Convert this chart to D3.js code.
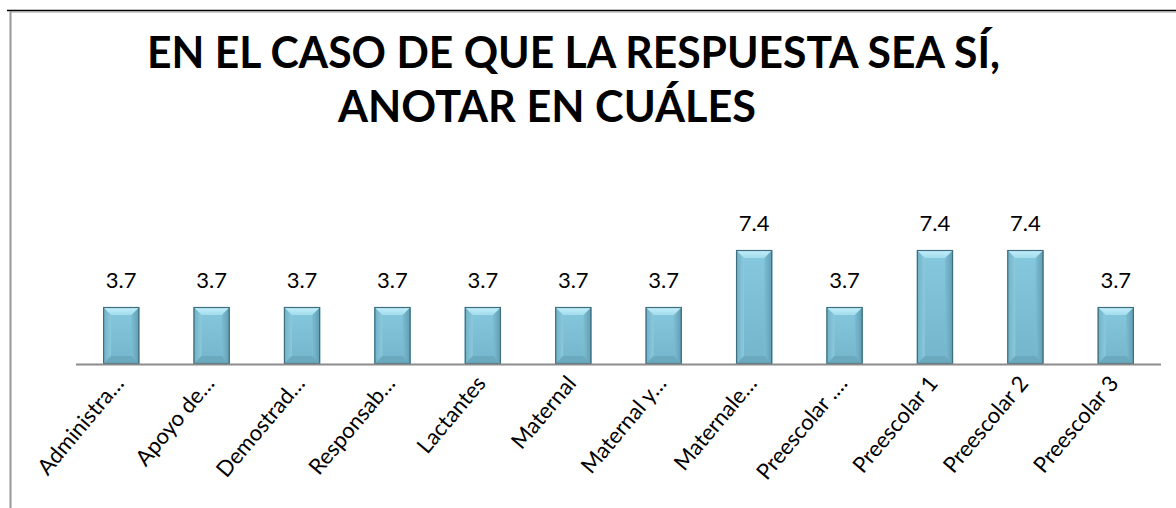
<!DOCTYPE html>
<html>
<head>
<meta charset="utf-8">
<script src="https://cdn.jsdelivr.net/npm/d3@7/dist/d3.min.js"></script>
<style>
html,body{margin:0;padding:0;background:#fff;}
svg{display:block;}
</style>
</head>
<body>
<svg id="chart" width="1176" height="508"></svg>
<script>
const categories = ["Administra…","Apoyo de…","Demostrad…","Responsab…","Lactantes","Maternal","Maternal y…","Maternale…","Preescolar .…","Preescolar 1","Preescolar 2","Preescolar 3"];
const values = [3.7,3.7,3.7,3.7,3.7,3.7,3.7,7.4,3.7,7.4,7.4,3.7];
const titleLines = ["EN EL CASO DE QUE LA RESPUESTA SEA SÍ,","ANOTAR EN CUÁLES"];

const svg = d3.select("#chart");
const W = 1176, H = 508;
const font = "Lato, 'Open Sans', 'Liberation Sans', sans-serif";

// frame
svg.append("line").attr("x1",7).attr("x2",W).attr("y1",10.5).attr("y2",10.5).attr("stroke","#000").attr("stroke-width",1.5);
svg.append("line").attr("x1",10).attr("x2",W).attr("y1",12).attr("y2",12).attr("stroke","#999").attr("stroke-width",1.2);
svg.append("line").attr("x1",10.5).attr("x2",10.5).attr("y1",11).attr("y2",H).attr("stroke","#999").attr("stroke-width",2);

// title
svg.append("text").attr("x",147).attr("y",68).attr("font-family",font).attr("font-weight",700)
  .attr("font-size",43).attr("textLength",853).attr("lengthAdjust","spacingAndGlyphs").attr("fill","#000").text(titleLines[0]);
svg.append("text").attr("x",338).attr("y",122).attr("font-family",font).attr("font-weight",700)
  .attr("font-size",43).attr("textLength",418).attr("lengthAdjust","spacingAndGlyphs").attr("fill","#000").text(titleLines[1]);

// scales
const x = d3.scaleBand().domain(categories).range([76,1161]).paddingInner(0.6).paddingOuter(0.3);
const y = d3.scaleLinear().domain([0,7.4]).range([364,250]);

// gradient defs
const defs = svg.append("defs");
function lg(id, stops, x1,y1,x2,y2){
  const g = defs.append("linearGradient").attr("id",id).attr("x1",x1).attr("y1",y1).attr("x2",x2).attr("y2",y2);
  stops.forEach(s=>g.append("stop").attr("offset",s[0]).attr("stop-color",s[1]));
}
lg("face",[[0,"#86c8de"],[1,"#74b5cb"]],0,0,0,1);
lg("topb",[[0,"#c4f0fb"],[1,"#a2dcec"]],0,0,0,1);
lg("leftb",[[0,"#6fb0c6"],[1,"#8cc9dc"]],0,0,1,0);
lg("rightb",[[0,"#7dbdd2"],[1,"#5e9cb2"]],0,0,1,0);

const bw = x.bandwidth();
const bev = 8;
const g = svg.append("g");
categories.forEach((c,i)=>{
  const x0 = x(c), x1 = x0+bw, yt = y(values[i]), yb = y(0);
  const bg = g.append("g");
  bg.append("rect").attr("x",x0).attr("y",yt).attr("width",bw).attr("height",yb-yt).attr("fill","url(#face)");
  bg.append("polygon").attr("points",[[x0,yt],[x0+bev,yt+bev],[x0+bev,yb-bev],[x0,yb]].join(" ")).attr("fill","url(#leftb)");
  bg.append("polygon").attr("points",[[x1,yt],[x1-bev,yt+bev],[x1-bev,yb-bev],[x1,yb]].join(" ")).attr("fill","url(#rightb)");
  bg.append("polygon").attr("points",[[x0,yb],[x0+bev,yb-bev],[x1-bev,yb-bev],[x1,yb]].join(" ")).attr("fill","#6aa9be");
  bg.append("polygon").attr("points",[[x0,yt],[x1,yt],[x1-bev,yt+bev],[x0+bev,yt+bev]].join(" ")).attr("fill","url(#topb)");
  bg.append("rect").attr("x",x0+0.5).attr("y",yt+0.5).attr("width",bw-1).attr("height",yb-yt-1)
    .attr("fill","none").attr("stroke","#3f6e7e").attr("stroke-width",1.2);
  g.append("text").attr("x",x0+bw/2).attr("y",yt-19).attr("text-anchor","middle")
    .attr("font-family",font).attr("font-size",22).attr("fill","#000")
    .text(values[i].toFixed(1));
});

// axis line
svg.append("line").attr("x1",76).attr("x2",1161).attr("y1",364.5).attr("y2",364.5).attr("stroke","#8c8c8c").attr("stroke-width",2);

// category labels
categories.forEach(c=>{
  const cx = x(c)+bw/2 + 4;
  const cy = 384;
  svg.append("text").attr("transform",`translate(${cx},${cy}) rotate(-50)`)
    .attr("text-anchor","end")
    .attr("font-family",font).attr("font-size",22).attr("fill","#000")
    .text(c);
});
</script>
</body>
</html>
